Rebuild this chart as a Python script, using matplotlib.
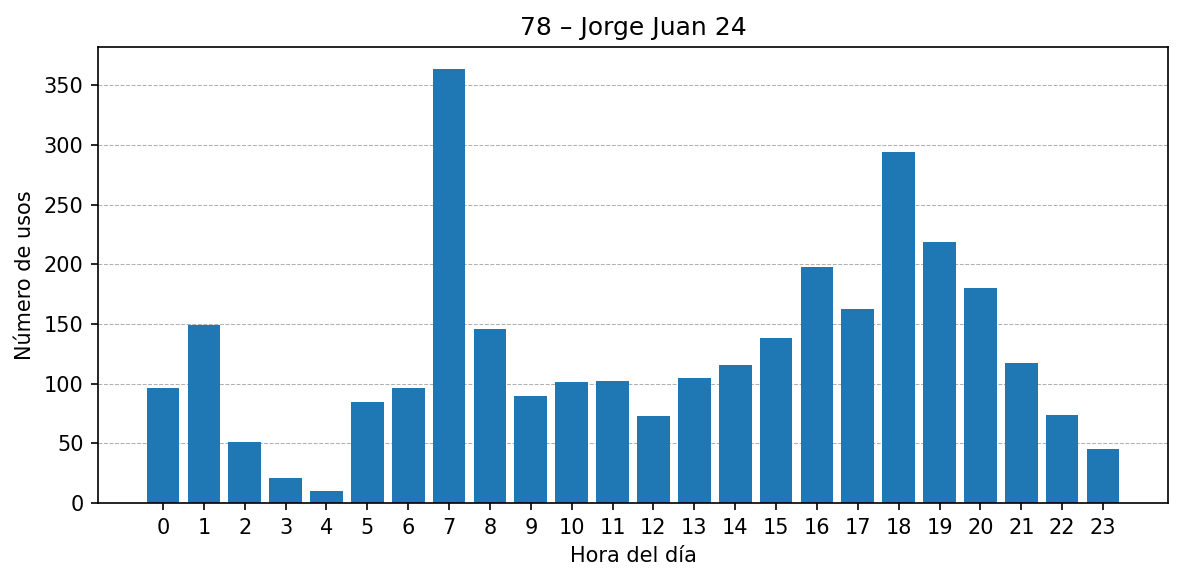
import matplotlib
matplotlib.use("Agg")
import matplotlib.pyplot as plt

hours = list(range(24))
usos = [96, 149, 51, 21, 10, 85, 96, 364, 146, 90, 101, 102, 73, 105, 116, 138,
        198, 163, 294, 219, 180, 117, 74, 45]

W, H, DPI = 1184, 581, 150
fig = plt.figure(figsize=(W / DPI, H / DPI), dpi=DPI)
ax = fig.add_axes([98 / W, 1 - 503 / H, (1168 - 98) / W, (503 - 47) / H])
ax.bar(hours, usos, color="#1f77b4")
ax.set_xticks(hours)
ax.set_xticklabels([str(h) for h in hours])
ax.set_title("78 – Jorge Juan 24")
ax.set_xlabel("Hora del día")
ax.set_ylabel("Número de usos")
ax.yaxis.grid(True, linestyle="--", linewidth=0.5, color="#b0b0b0")
ax.set_axisbelow(True)
fig.savefig("out.png", dpi=DPI)
